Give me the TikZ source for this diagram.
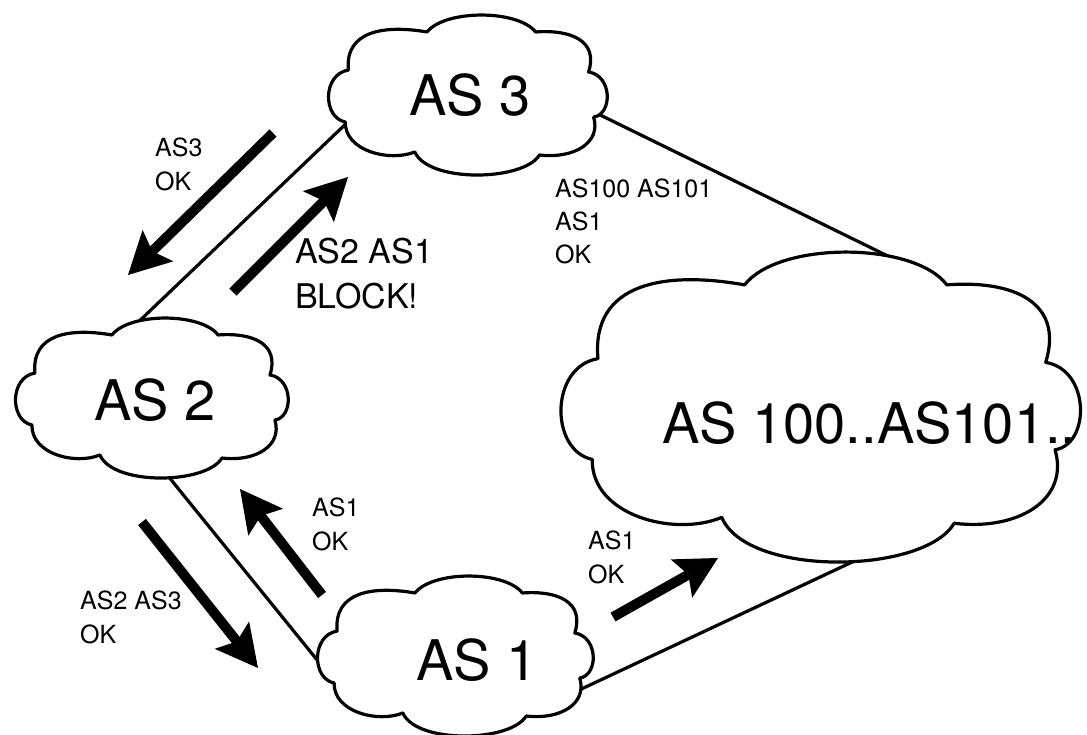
\documentclass[tikz,border=0pt]{standalone}
\usepackage{fontspec}
\setmainfont{TeX Gyre Heros}
\usetikzlibrary{arrows.meta}

% Puffy cloud outline in a unit box (v grows downward), scaled to w x h at (x0,y0)
\newcommand\ascloud[4]{%
  \begin{scope}[shift={(#1,#2)},xscale=#3,yscale=#4]
    \filldraw[cloudline]
      (0.355,0.106)
      .. controls (0.42,-0.035) and (0.68,-0.035) .. (0.744,0.106)
      .. controls (0.87,0.09) and (0.97,0.16) .. (0.934,0.356)
      .. controls (1.02,0.38) and (1.02,0.62) .. (0.952,0.638)
      .. controls (0.98,0.80) and (0.88,0.90) .. (0.758,0.875)
      .. controls (0.70,1.04) and (0.36,1.05) .. (0.311,0.856)
      .. controls (0.22,0.92) and (0.06,0.85) .. (0.062,0.669)
      .. controls (-0.02,0.64) and (-0.02,0.37) .. (0.073,0.344)
      .. controls (0.06,0.10) and (0.20,0.06) .. (0.355,0.106) -- cycle;
  \end{scope}}

\tikzset{
  cloudline/.style={draw=black, fill=white, line width=3.2pt, line join=round},
  link/.style={draw=black, line width=3.2pt},
  bigarrow/.style={line width=10pt,
    -{Stealth[length=42pt,width=44pt,inset=8pt,line width=0pt]}},
  astitle/.style={inner sep=0pt, font=\fontsize{56}{60}\selectfont},
  small/.style={inner sep=0pt, align=left, anchor=base west,
    font=\fontsize{25}{34}\selectfont},
  medium/.style={inner sep=0pt, align=left, anchor=base west,
    font=\fontsize{34}{45}\selectfont},
}

\begin{document}
\begin{tikzpicture}[x=1pt,y=-1pt]
  \useasboundingbox (0,0) rectangle (1087,734);

  % attachment points of the links on the cloud outlines
  \coordinate (as2-ne) at (132,328);
  \coordinate (as3-sw) at (352,118);
  \coordinate (as3-e)  at (590,110);
  \coordinate (as100-n) at (900,262);
  \coordinate (as2-se) at (168,476);
  \coordinate (as1-w)  at (335,682);
  \coordinate (as1-e)  at (575,692);
  \coordinate (as100-s) at (865,556);

  % peering links
  \draw[link] (as2-ne) -- (as3-sw);
  \draw[link] (as3-e) -- (as100-n);
  \draw[link] (as2-se) -- (as1-w);
  \draw[link] (as1-e) -- (as100-s);

  % autonomous systems
  \ascloud{328}{15}{279}{160}
  \ascloud{15}{318}{273}{160}
  \ascloud{317}{576}{276}{160}
  \ascloud{560}{252}{520}{310}

  \node[astitle, anchor=base] (as3) at (470,115) {AS 3};
  \node[astitle, anchor=base] (as2) at (155,420) {AS 2};
  \node[astitle, anchor=base] (as1) at (477,680) {AS 1};
  \node[astitle, anchor=base west] (as100) at (662,443) {AS 100..AS101..};

  % route announcements
  \draw[bigarrow] (273,133) -- (128,275);
  \draw[bigarrow] (233,292) -- (348,177);
  \draw[bigarrow] (322,595) -- (240,489);
  \draw[bigarrow] (142,522) -- (258,668);
  \draw[bigarrow] (613,617) -- (718,558);

  % announcement labels (anchored on the baseline of their last line)
  \node[small]  (l-as3)   at (155,190) {AS3\\OK};
  \node[medium] (l-block) at (295,308) {AS2 AS1\\BLOCK!};
  \node[small, font=\fontsize{25}{33}\selectfont] (l-as100) at (555,263) {AS100 AS101\\AS1\\OK};
  \node[small]  (l-as1a)  at (312,550) {AS1\\OK};
  \node[small]  (l-as23)  at (80,643)  {AS2 AS3\\OK};
  \node[small]  (l-as1b)  at (588,583) {AS1\\OK};
\end{tikzpicture}
\end{document}
